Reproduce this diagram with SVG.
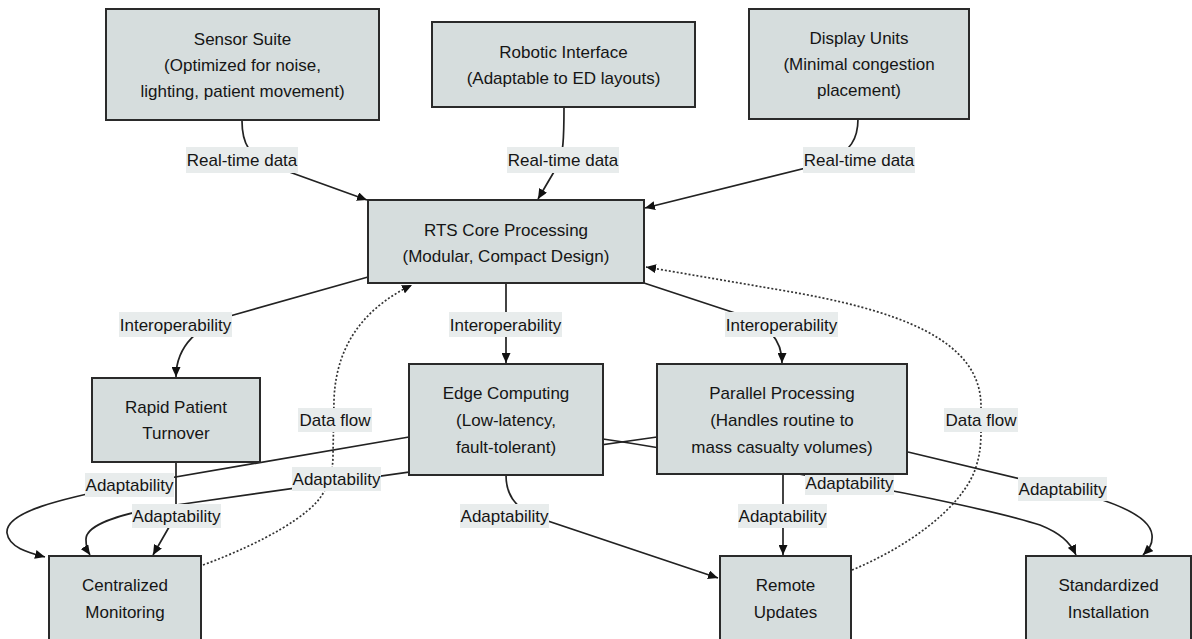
<svg xmlns="http://www.w3.org/2000/svg" width="1192" height="639" viewBox="0 0 1192 639">
<style>
text{font-family:"Liberation Sans",Arial,sans-serif;font-size:17px;fill:#151515;text-anchor:middle}
.node{fill:#d6dddd;stroke:#2a2a2a;stroke-width:2}
.edge{fill:none;stroke:#222;stroke-width:1.7}
.dot{fill:none;stroke:#333;stroke-width:1.7;stroke-dasharray:2 2}
.lbl{fill:#e8ecec}
</style>
<defs>
<marker id="arr" markerUnits="userSpaceOnUse" markerWidth="11" markerHeight="9" refX="10" refY="4.5" orient="auto">
<path d="M0,0 L10,4.5 L0,9 z" fill="#111"/>
</marker>
</defs>
<rect width="1192" height="639" fill="#fff"/>
<g id="connectors">
<path class="edge" marker-end="url(#arr)" d="M242,121 C242,145 250,155 270,165 L367,200"/>
<path class="edge" marker-end="url(#arr)" d="M564,107 C564,140 563,155 558,165 L538,199"/>
<path class="edge" marker-end="url(#arr)" d="M858,119 C858,140 850,150 830,162 L645,208"/>
<path class="edge" marker-end="url(#arr)" d="M368,277 L230,316 C200,325 176,345 176,377"/>
<path class="edge" marker-end="url(#arr)" d="M506,283 L506,363"/>
<path class="edge" marker-end="url(#arr)" d="M644,283 L735,313 C770,325 782,340 782,363"/>
<path class="dot" marker-end="url(#arr)" d="M203,565 C265,542 310,515 322,495 C330,482 333,470 333,455 L334,400 C336,340 370,305 412,285"/>
<path class="dot" marker-end="url(#arr)" d="M852,570 C905,548 960,510 975,470 C980,455 981,445 981,430 L981,405 C980,340 900,310 780,290 L646,267"/>
<path class="edge" marker-end="url(#arr)" d="M176,462 L176,515 L153,555"/>
<path class="edge" marker-end="url(#arr)" d="M409,437 L129,485 C60,499 5,512 7,533 C9,548 30,553 45,557"/>
<path class="edge" marker-end="url(#arr)" d="M657,437 L176,505 C120,513 85,525 86,540 C86,548 88,552 90,555"/>
<path class="edge" marker-end="url(#arr)" d="M603,439 C700,453 800,475 849,483 C920,495 1010,515 1040,525 C1060,533 1070,542 1076,555"/>
<path class="edge" marker-end="url(#arr)" d="M908,452 L1062,489 C1110,500 1150,515 1152,535 C1153,545 1148,550 1143,555"/>
<path class="edge" marker-end="url(#arr)" d="M506,475 C506,495 515,505 530,515 L718,578"/>
<path class="edge" marker-end="url(#arr)" d="M783,474 L783,555"/>
</g>
<g id="edge-labels">
<rect class="lbl" x="186" y="147" width="112" height="26"/><text x="242" y="166">Real-time data</text>
<rect class="lbl" x="507" y="147" width="112" height="26"/><text x="563" y="166">Real-time data</text>
<rect class="lbl" x="803" y="147" width="112" height="26"/><text x="859" y="166">Real-time data</text>
<rect class="lbl" x="119" y="312" width="113" height="25"/><text x="175.5" y="331">Interoperability</text>
<rect class="lbl" x="449" y="312" width="113" height="25"/><text x="505.5" y="331">Interoperability</text>
<rect class="lbl" x="725" y="312" width="113" height="25"/><text x="781.5" y="331">Interoperability</text>
<rect class="lbl" x="298" y="408" width="74" height="24"/><text x="335" y="426">Data flow</text>
<rect class="lbl" x="944" y="408" width="74" height="24"/><text x="981" y="426">Data flow</text>
<rect class="lbl" x="85" y="473" width="89" height="24"/><text x="129.5" y="491">Adaptability</text>
<rect class="lbl" x="132" y="504" width="89" height="24"/><text x="176.5" y="522">Adaptability</text>
<rect class="lbl" x="292" y="467" width="89" height="24"/><text x="336.5" y="485">Adaptability</text>
<rect class="lbl" x="460" y="504" width="89" height="24"/><text x="504.5" y="522">Adaptability</text>
<rect class="lbl" x="738" y="504" width="89" height="24"/><text x="782.5" y="522">Adaptability</text>
<rect class="lbl" x="805" y="471" width="89" height="24"/><text x="849.5" y="489">Adaptability</text>
<rect class="lbl" x="1018" y="477" width="89" height="24"/><text x="1062.5" y="495">Adaptability</text>
</g>
<g id="sensor-suite">
<rect class="node" x="106" y="9" width="273" height="111"/>
<text x="242.5" y="45">Sensor Suite</text>
<text x="242.5" y="71">(Optimized for noise,</text>
<text x="242.5" y="97">lighting, patient movement)</text>
</g>
<g id="robotic-interface">
<rect class="node" x="432" y="22" width="263" height="85"/>
<text x="563.5" y="58">Robotic Interface</text>
<text x="563.5" y="84">(Adaptable to ED layouts)</text>
</g>
<g id="display-units">
<rect class="node" x="749" y="9" width="220" height="110"/>
<text x="859" y="44">Display Units</text>
<text x="859" y="70">(Minimal congestion</text>
<text x="859" y="96">placement)</text>
</g>
<g id="rts-core">
<rect class="node" x="368" y="200" width="276" height="83"/>
<text x="506" y="236">RTS Core Processing</text>
<text x="506" y="262">(Modular, Compact Design)</text>
</g>
<g id="rapid-turnover">
<rect class="node" x="92" y="378" width="168" height="84"/>
<text x="176" y="413">Rapid Patient</text>
<text x="176" y="439">Turnover</text>
</g>
<g id="edge-computing">
<rect class="node" x="409" y="364" width="194" height="111"/>
<text x="506" y="399">Edge Computing</text>
<text x="506" y="426">(Low-latency,</text>
<text x="506" y="453">fault-tolerant)</text>
</g>
<g id="parallel-processing">
<rect class="node" x="657" y="364" width="250" height="110"/>
<text x="782" y="399">Parallel Processing</text>
<text x="782" y="426">(Handles routine to</text>
<text x="782" y="453">mass casualty volumes)</text>
</g>
<g id="centralized-monitoring">
<rect class="node" x="49" y="556" width="152" height="86"/>
<text x="125" y="591">Centralized</text>
<text x="125" y="618">Monitoring</text>
</g>
<g id="remote-updates">
<rect class="node" x="720" y="556" width="131" height="86"/>
<text x="785.5" y="591">Remote</text>
<text x="785.5" y="618">Updates</text>
</g>
<g id="standardized-installation">
<rect class="node" x="1026" y="556" width="165" height="86"/>
<text x="1108.5" y="591">Standardized</text>
<text x="1108.5" y="618">Installation</text>
</g>
</svg>
